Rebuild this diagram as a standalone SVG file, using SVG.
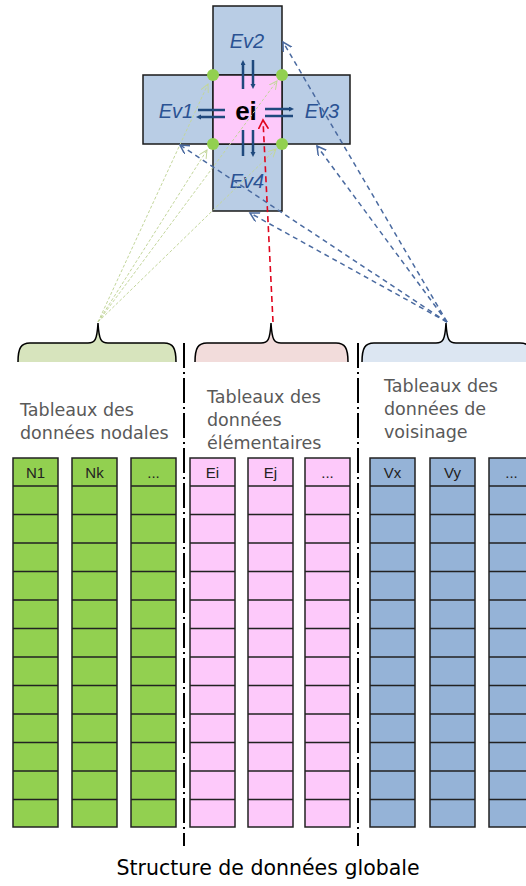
<svg xmlns="http://www.w3.org/2000/svg" xmlns:xlink="http://www.w3.org/1999/xlink" width="526" height="886" viewBox="0 0 526 886">
<style>
.sq{fill:#b9cde5;stroke:#1a1a1a;stroke-width:1.5}
.ctr{fill:#fdc9fa;stroke:#1a1a1a;stroke-width:1.5}
.dot{fill:#92d050}
.ev{font-family:"Liberation Sans",Arial,sans-serif;font-style:italic;font-size:20px;fill:#2a5293;text-anchor:middle}
.ei{font-family:"Liberation Sans",Arial,sans-serif;font-weight:bold;font-size:26px;fill:#000;text-anchor:middle}
.eq{stroke:#1f497d;stroke-width:2.5;fill:none}
.lbl{font-family:"DejaVu Sans",sans-serif;font-size:17.5px;fill:#595959}
.hdr{font-family:"Liberation Sans",Arial,sans-serif;font-size:15px;fill:#222;text-anchor:middle}
.col{stroke:#222;stroke-width:1.5}
.sep{stroke:#000;stroke-width:2;stroke-dasharray:25 4 2 4;fill:none}
.brace{fill:none;stroke:#000;stroke-width:1.5}
.gl{stroke:#c3d69b;stroke-width:1;stroke-dasharray:3 2;fill:none}
.bl{stroke:#4a6aa0;stroke-width:1.5;stroke-dasharray:5 4;fill:none}
.rl{stroke:#e0061e;stroke-width:1.6;stroke-dasharray:6 4;fill:none}
.title{font-family:"DejaVu Sans",sans-serif;font-size:20.5px;fill:#000;text-anchor:middle}
</style>
<defs>
<marker id="ag" markerWidth="10" markerHeight="10" refX="8" refY="4" orient="auto" markerUnits="userSpaceOnUse"><path d="M0,0 L8,4 L0,8" fill="none" stroke="#c3d69b" stroke-width="1"/></marker>
<marker id="ab" markerWidth="12" markerHeight="12" refX="9" refY="5" orient="auto" markerUnits="userSpaceOnUse"><path d="M0,0 L9,5 L0,10" fill="none" stroke="#4a6aa0" stroke-width="1.5"/></marker>
<marker id="ar" markerWidth="12" markerHeight="12" refX="9" refY="5" orient="auto" markerUnits="userSpaceOnUse"><path d="M0,0 L9,5 L0,10" fill="none" stroke="#e0061e" stroke-width="1.6"/></marker>
<marker id="ae" markerWidth="6" markerHeight="6" refX="1" refY="2.5" orient="auto" markerUnits="userSpaceOnUse"><path d="M0,0 L5,2.5 L0,5 Z" fill="#1f497d"/></marker>
<g id="colshape">
<rect x="0" y="458" width="45" height="369"/>
<path d="M0,486H45M0,514.5H45M0,543H45M0,571.5H45M0,600H45M0,628.5H45M0,657H45M0,685.5H45M0,714H45M0,742.5H45M0,771H45M0,799.5H45" fill="none"/>
</g>
</defs>
<rect width="526" height="886" fill="#fff"/>

<g id="ev2"><rect class="sq" x="213" y="6" width="69" height="69"/><text class="ev" x="247" y="48">Ev2</text></g>
<g id="ev1"><rect class="sq" x="143" y="75" width="70" height="69"/><text class="ev" x="176" y="118">Ev1</text></g>
<g id="ev3"><rect class="sq" x="282" y="75" width="68" height="69"/><text class="ev" x="322" y="118">Ev3</text></g>
<g id="ev4"><rect class="sq" x="213" y="144" width="69" height="67"/><text class="ev" x="247" y="188">Ev4</text></g>
<g id="ei"><rect class="ctr" x="213" y="75" width="69" height="69"/><text class="ei" x="246" y="120">ei</text></g>
<g id="links">
<path class="eq" d="M243,89V64" marker-end="url(#ae)"/>
<path class="eq" d="M253,60V85" marker-end="url(#ae)"/>
<path class="eq" d="M243,130V156"/>
<path class="eq" d="M253,130V153" marker-end="url(#ae)"/>
<path class="eq" d="M198,110H225"/>
<path class="eq" d="M225,117H200" marker-end="url(#ae)"/>
<path class="eq" d="M265,109H290" marker-end="url(#ae)"/>
<path class="eq" d="M265,116H293"/>
</g>
<g id="dots">
<circle class="dot" cx="213" cy="75" r="6"/>
<circle class="dot" cx="282" cy="75" r="6"/>
<circle class="dot" cx="213" cy="144" r="6"/>
<circle class="dot" cx="282" cy="144" r="6"/>
</g>

<g id="brace-nodal">
<path d="M18,362 C18,348 21,343 30,343 L88,343 C95,343 97,340 98,323 C99,340 101,343 108,343 L164,343 C173,343 176,348 176,362 Z" fill="#d7e4bd"/>
<path class="brace" d="M18,362 C18,348 21,343 30,343 L88,343 C95,343 97,340 98,323 C99,340 101,343 108,343 L164,343 C173,343 176,348 176,362"/>
</g>
<g id="brace-elem">
<path d="M195,362 C195,348 198,343 207,343 L261,343 C268,343 270,340 271,323 C272,340 274,343 281,343 L336,343 C345,343 348,348 348,362 Z" fill="#f2dcdb"/>
<path class="brace" d="M195,362 C195,348 198,343 207,343 L261,343 C268,343 270,340 271,323 C272,340 274,343 281,343 L336,343 C345,343 348,348 348,362"/>
</g>
<g id="brace-vois">
<path d="M362,362 C362,348 365,343 374,343 L436,343 C443,343 445,340 446,323 C447,340 449,343 456,343 L520,343 C529,343 532,348 532,362 Z" fill="#dce6f2"/>
<path class="brace" d="M362,362 C362,348 365,343 374,343 L436,343 C443,343 445,340 446,323 C447,340 449,343 456,343 L520,343 C529,343 532,348 532,362"/>
</g>

<g id="connectors">
<path class="gl" d="M98,322 L208,84" marker-end="url(#ag)"/>
<path class="gl" d="M98,322 L277,81" marker-end="url(#ag)"/>
<path class="gl" d="M98,322 L207,150" marker-end="url(#ag)"/>
<path class="gl" d="M98,322 L276,149" marker-end="url(#ag)"/>
<path class="bl" d="M447,322 L283,42" marker-end="url(#ab)"/>
<path class="bl" d="M447,322 L317,146" marker-end="url(#ab)"/>
<path class="bl" d="M447,322 L180,145" marker-end="url(#ab)"/>
<path class="bl" d="M447,322 L250,213" marker-end="url(#ab)"/>
<path class="rl" d="M273,322 L263,120" marker-end="url(#ar)"/>
</g>

<g id="separators">
<path class="sep" d="M184,343V846"/>
<path class="sep" d="M358,343V846"/>
</g>

<g id="label-nodal"><text class="lbl" x="20" y="416">Tableaux des</text><text class="lbl" x="20" y="439">données nodales</text></g>
<g id="label-elem"><text class="lbl" x="207" y="403">Tableaux des</text><text class="lbl" x="207" y="426">données</text><text class="lbl" x="207" y="449">élémentaires</text></g>
<g id="label-vois"><text class="lbl" x="384" y="392">Tableaux des</text><text class="lbl" x="384" y="415">données de</text><text class="lbl" x="384" y="438">voisinage</text></g>

<g id="col-n1"><use href="#colshape" x="13" class="col" fill="#92d050"/><text class="hdr" x="35.5" y="478">N1</text></g>
<g id="col-nk"><use href="#colshape" x="72" class="col" fill="#92d050"/><text class="hdr" x="94.5" y="478">Nk</text></g>
<g id="col-n3"><use href="#colshape" x="131" class="col" fill="#92d050"/><text class="hdr" x="153.5" y="478">...</text></g>
<g id="col-ei"><use href="#colshape" x="190" class="col" fill="#fdc9fa"/><text class="hdr" x="212.5" y="478">Ei</text></g>
<g id="col-ej"><use href="#colshape" x="248" class="col" fill="#fdc9fa"/><text class="hdr" x="270.5" y="478">Ej</text></g>
<g id="col-e3"><use href="#colshape" x="305" class="col" fill="#fdc9fa"/><text class="hdr" x="327.5" y="478">...</text></g>
<g id="col-vx"><use href="#colshape" x="370" class="col" fill="#95b3d7"/><text class="hdr" x="392.5" y="478">Vx</text></g>
<g id="col-vy"><use href="#colshape" x="430" class="col" fill="#95b3d7"/><text class="hdr" x="452.5" y="478">Vy</text></g>
<g id="col-v3"><use href="#colshape" x="489" class="col" fill="#95b3d7"/><text class="hdr" x="511.5" y="478">...</text></g>

<text class="title" x="268" y="875">Structure de données globale</text>
</svg>
